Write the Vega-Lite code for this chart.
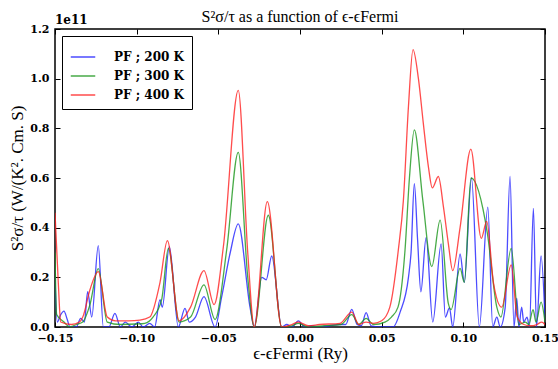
{
  "$schema": "https://vega.github.io/schema/vega-lite/v6.json",
  "width": 490,
  "height": 298,
  "autosize": {"type": "none"},
  "padding": {"left": 55, "top": 29, "right": 13, "bottom": 42},
  "background": "white",
  "title": {"text": "S²σ/τ as a function of ϵ-ϵFermi", "font": "Liberation Serif", "fontSize": 16, "fontWeight": "normal", "color": "black", "offset": 8, "dy": 19},
  "config": {
    "view": {"stroke": "black", "strokeWidth": 1.5},
    "axis": {"grid": false, "domain": false, "labelFlush": false, "labelFont": "DejaVu Serif", "labelFontWeight": "bold", "labelFontSize": 11, "labelColor": "black", "tickColor": "black", "tickSize": -5, "titleFont": "Liberation Serif", "titleFontWeight": "normal", "titleFontSize": 17, "titleColor": "black"}
  },
  "datasets": {
    "pf": [
      {"e": -0.15, "series": "PF ; 200 K", "pf": 0.2},
      {"e": -0.1486, "series": "PF ; 200 K", "pf": 0.02},
      {"e": -0.1465, "series": "PF ; 200 K", "pf": 0.05},
      {"e": -0.1445, "series": "PF ; 200 K", "pf": 0.064},
      {"e": -0.1425, "series": "PF ; 200 K", "pf": 0.03},
      {"e": -0.1408, "series": "PF ; 200 K", "pf": 0.0},
      {"e": -0.137, "series": "PF ; 200 K", "pf": 0.0},
      {"e": -0.1343, "series": "PF ; 200 K", "pf": 0.035},
      {"e": -0.132, "series": "PF ; 200 K", "pf": 0.02},
      {"e": -0.13, "series": "PF ; 200 K", "pf": 0.142},
      {"e": -0.1275, "series": "PF ; 200 K", "pf": 0.04},
      {"e": -0.1235, "series": "PF ; 200 K", "pf": 0.328},
      {"e": -0.1204, "series": "PF ; 200 K", "pf": 0.0},
      {"e": -0.117, "series": "PF ; 200 K", "pf": 0.0},
      {"e": -0.1133, "series": "PF ; 200 K", "pf": 0.055},
      {"e": -0.11, "series": "PF ; 200 K", "pf": 0.0},
      {"e": -0.107, "series": "PF ; 200 K", "pf": 0.02},
      {"e": -0.103, "series": "PF ; 200 K", "pf": 0.0},
      {"e": -0.099, "series": "PF ; 200 K", "pf": 0.02},
      {"e": -0.096, "series": "PF ; 200 K", "pf": 0.0},
      {"e": -0.092, "series": "PF ; 200 K", "pf": 0.015},
      {"e": -0.089, "series": "PF ; 200 K", "pf": 0.0},
      {"e": -0.0857, "series": "PF ; 200 K", "pf": 0.11},
      {"e": -0.0843, "series": "PF ; 200 K", "pf": 0.08},
      {"e": -0.08, "series": "PF ; 200 K", "pf": 0.324},
      {"e": -0.0745, "series": "PF ; 200 K", "pf": 0.0},
      {"e": -0.0704, "series": "PF ; 200 K", "pf": 0.075},
      {"e": -0.0678, "series": "PF ; 200 K", "pf": 0.02},
      {"e": -0.064, "series": "PF ; 200 K", "pf": 0.04},
      {"e": -0.0588, "series": "PF ; 200 K", "pf": 0.122},
      {"e": -0.052, "series": "PF ; 200 K", "pf": 0.0},
      {"e": -0.048, "series": "PF ; 200 K", "pf": 0.12},
      {"e": -0.0428, "series": "PF ; 200 K", "pf": 0.297},
      {"e": -0.0378, "series": "PF ; 200 K", "pf": 0.415},
      {"e": -0.0306, "series": "PF ; 200 K", "pf": 0.08},
      {"e": -0.028, "series": "PF ; 200 K", "pf": 0.0},
      {"e": -0.0234, "series": "PF ; 200 K", "pf": 0.2},
      {"e": -0.0207, "series": "PF ; 200 K", "pf": 0.19},
      {"e": -0.0173, "series": "PF ; 200 K", "pf": 0.286},
      {"e": -0.0112, "series": "PF ; 200 K", "pf": 0.0},
      {"e": -0.0081, "series": "PF ; 200 K", "pf": 0.01},
      {"e": -0.005, "series": "PF ; 200 K", "pf": 0.0},
      {"e": -0.001, "series": "PF ; 200 K", "pf": 0.025},
      {"e": 0.003, "series": "PF ; 200 K", "pf": 0.0},
      {"e": 0.007, "series": "PF ; 200 K", "pf": 0.005},
      {"e": 0.012, "series": "PF ; 200 K", "pf": 0.0},
      {"e": 0.018, "series": "PF ; 200 K", "pf": 0.005},
      {"e": 0.024, "series": "PF ; 200 K", "pf": 0.01},
      {"e": 0.028, "series": "PF ; 200 K", "pf": 0.01},
      {"e": 0.0317, "series": "PF ; 200 K", "pf": 0.071},
      {"e": 0.035, "series": "PF ; 200 K", "pf": 0.01},
      {"e": 0.0375, "series": "PF ; 200 K", "pf": 0.005},
      {"e": 0.0405, "series": "PF ; 200 K", "pf": 0.058},
      {"e": 0.0435, "series": "PF ; 200 K", "pf": 0.005},
      {"e": 0.05, "series": "PF ; 200 K", "pf": 0.0},
      {"e": 0.057, "series": "PF ; 200 K", "pf": 0.0},
      {"e": 0.0613, "series": "PF ; 200 K", "pf": 0.06},
      {"e": 0.0664, "series": "PF ; 200 K", "pf": 0.2},
      {"e": 0.068, "series": "PF ; 200 K", "pf": 0.3},
      {"e": 0.07, "series": "PF ; 200 K", "pf": 0.577},
      {"e": 0.072, "series": "PF ; 200 K", "pf": 0.35},
      {"e": 0.074, "series": "PF ; 200 K", "pf": 0.142},
      {"e": 0.0772, "series": "PF ; 200 K", "pf": 0.36},
      {"e": 0.0813, "series": "PF ; 200 K", "pf": 0.02},
      {"e": 0.0864, "series": "PF ; 200 K", "pf": 0.335},
      {"e": 0.089, "series": "PF ; 200 K", "pf": 0.04},
      {"e": 0.0915, "series": "PF ; 200 K", "pf": 0.077},
      {"e": 0.0935, "series": "PF ; 200 K", "pf": 0.0},
      {"e": 0.098, "series": "PF ; 200 K", "pf": 0.294},
      {"e": 0.1006, "series": "PF ; 200 K", "pf": 0.18},
      {"e": 0.105, "series": "PF ; 200 K", "pf": 0.6},
      {"e": 0.1098, "series": "PF ; 200 K", "pf": 0.0},
      {"e": 0.115, "series": "PF ; 200 K", "pf": 0.483},
      {"e": 0.118, "series": "PF ; 200 K", "pf": 0.0},
      {"e": 0.1205, "series": "PF ; 200 K", "pf": 0.04},
      {"e": 0.1226, "series": "PF ; 200 K", "pf": 0.0},
      {"e": 0.1256, "series": "PF ; 200 K", "pf": 0.077},
      {"e": 0.1286, "series": "PF ; 200 K", "pf": 0.606},
      {"e": 0.131, "series": "PF ; 200 K", "pf": 0.0},
      {"e": 0.1327, "series": "PF ; 200 K", "pf": 0.116},
      {"e": 0.134, "series": "PF ; 200 K", "pf": 0.0},
      {"e": 0.1357, "series": "PF ; 200 K", "pf": 0.08},
      {"e": 0.137, "series": "PF ; 200 K", "pf": 0.02},
      {"e": 0.139, "series": "PF ; 200 K", "pf": 0.04},
      {"e": 0.1405, "series": "PF ; 200 K", "pf": 0.0},
      {"e": 0.1429, "series": "PF ; 200 K", "pf": 0.478},
      {"e": 0.1448, "series": "PF ; 200 K", "pf": 0.0},
      {"e": 0.1476, "series": "PF ; 200 K", "pf": 0.286},
      {"e": 0.15, "series": "PF ; 200 K", "pf": 0.03},

      {"e": -0.15, "series": "PF ; 300 K", "pf": 0.3},
      {"e": -0.149, "series": "PF ; 300 K", "pf": 0.05},
      {"e": -0.1445, "series": "PF ; 300 K", "pf": 0.02},
      {"e": -0.141, "series": "PF ; 300 K", "pf": 0.0},
      {"e": -0.137, "series": "PF ; 300 K", "pf": 0.01},
      {"e": -0.133, "series": "PF ; 300 K", "pf": 0.02},
      {"e": -0.1286, "series": "PF ; 300 K", "pf": 0.09},
      {"e": -0.1235, "series": "PF ; 300 K", "pf": 0.235},
      {"e": -0.118, "series": "PF ; 300 K", "pf": 0.02},
      {"e": -0.11, "series": "PF ; 300 K", "pf": 0.01},
      {"e": -0.1, "series": "PF ; 300 K", "pf": 0.012},
      {"e": -0.095, "series": "PF ; 300 K", "pf": 0.015},
      {"e": -0.09, "series": "PF ; 300 K", "pf": 0.04},
      {"e": -0.0847, "series": "PF ; 300 K", "pf": 0.11},
      {"e": -0.0806, "series": "PF ; 300 K", "pf": 0.317},
      {"e": -0.074, "series": "PF ; 300 K", "pf": 0.02},
      {"e": -0.067, "series": "PF ; 300 K", "pf": 0.04},
      {"e": -0.0588, "series": "PF ; 300 K", "pf": 0.17},
      {"e": -0.052, "series": "PF ; 300 K", "pf": 0.03},
      {"e": -0.0449, "series": "PF ; 300 K", "pf": 0.31},
      {"e": -0.0378, "series": "PF ; 300 K", "pf": 0.703},
      {"e": -0.032, "series": "PF ; 300 K", "pf": 0.2},
      {"e": -0.028, "series": "PF ; 300 K", "pf": 0.0},
      {"e": -0.0194, "series": "PF ; 300 K", "pf": 0.45},
      {"e": -0.0112, "series": "PF ; 300 K", "pf": 0.0},
      {"e": -0.005, "series": "PF ; 300 K", "pf": 0.005},
      {"e": -0.001, "series": "PF ; 300 K", "pf": 0.015},
      {"e": 0.005, "series": "PF ; 300 K", "pf": 0.0},
      {"e": 0.015, "series": "PF ; 300 K", "pf": 0.005},
      {"e": 0.025, "series": "PF ; 300 K", "pf": 0.01},
      {"e": 0.0317, "series": "PF ; 300 K", "pf": 0.05},
      {"e": 0.036, "series": "PF ; 300 K", "pf": 0.01},
      {"e": 0.0405, "series": "PF ; 300 K", "pf": 0.035},
      {"e": 0.045, "series": "PF ; 300 K", "pf": 0.01},
      {"e": 0.052, "series": "PF ; 300 K", "pf": 0.02},
      {"e": 0.056, "series": "PF ; 300 K", "pf": 0.04},
      {"e": 0.06, "series": "PF ; 300 K", "pf": 0.08},
      {"e": 0.0643, "series": "PF ; 300 K", "pf": 0.31},
      {"e": 0.067, "series": "PF ; 300 K", "pf": 0.6},
      {"e": 0.07, "series": "PF ; 300 K", "pf": 0.794},
      {"e": 0.0752, "series": "PF ; 300 K", "pf": 0.51},
      {"e": 0.0807, "series": "PF ; 300 K", "pf": 0.243},
      {"e": 0.0858, "series": "PF ; 300 K", "pf": 0.43},
      {"e": 0.0908, "series": "PF ; 300 K", "pf": 0.095},
      {"e": 0.0925, "series": "PF ; 300 K", "pf": 0.07},
      {"e": 0.098, "series": "PF ; 300 K", "pf": 0.236},
      {"e": 0.1006, "series": "PF ; 300 K", "pf": 0.18},
      {"e": 0.1047, "series": "PF ; 300 K", "pf": 0.6},
      {"e": 0.1147, "series": "PF ; 300 K", "pf": 0.378},
      {"e": 0.1205, "series": "PF ; 300 K", "pf": 0.08},
      {"e": 0.123, "series": "PF ; 300 K", "pf": 0.04},
      {"e": 0.1293, "series": "PF ; 300 K", "pf": 0.317},
      {"e": 0.134, "series": "PF ; 300 K", "pf": 0.01},
      {"e": 0.138, "series": "PF ; 300 K", "pf": 0.02},
      {"e": 0.14, "series": "PF ; 300 K", "pf": 0.01},
      {"e": 0.1427, "series": "PF ; 300 K", "pf": 0.07},
      {"e": 0.1445, "series": "PF ; 300 K", "pf": 0.02},
      {"e": 0.1476, "series": "PF ; 300 K", "pf": 0.1},
      {"e": 0.15, "series": "PF ; 300 K", "pf": 0.02},

      {"e": -0.15, "series": "PF ; 400 K", "pf": 0.46},
      {"e": -0.148, "series": "PF ; 400 K", "pf": 0.18},
      {"e": -0.1465, "series": "PF ; 400 K", "pf": 0.02},
      {"e": -0.14, "series": "PF ; 400 K", "pf": 0.01},
      {"e": -0.135, "series": "PF ; 400 K", "pf": 0.02},
      {"e": -0.133, "series": "PF ; 400 K", "pf": 0.04},
      {"e": -0.1286, "series": "PF ; 400 K", "pf": 0.15},
      {"e": -0.1235, "series": "PF ; 400 K", "pf": 0.223},
      {"e": -0.118, "series": "PF ; 400 K", "pf": 0.04},
      {"e": -0.113, "series": "PF ; 400 K", "pf": 0.025},
      {"e": -0.105, "series": "PF ; 400 K", "pf": 0.025},
      {"e": -0.098, "series": "PF ; 400 K", "pf": 0.028},
      {"e": -0.092, "series": "PF ; 400 K", "pf": 0.04},
      {"e": -0.0857, "series": "PF ; 400 K", "pf": 0.18},
      {"e": -0.0812, "series": "PF ; 400 K", "pf": 0.348},
      {"e": -0.074, "series": "PF ; 400 K", "pf": 0.025},
      {"e": -0.067, "series": "PF ; 400 K", "pf": 0.08},
      {"e": -0.0588, "series": "PF ; 400 K", "pf": 0.227},
      {"e": -0.0526, "series": "PF ; 400 K", "pf": 0.09},
      {"e": -0.0469, "series": "PF ; 400 K", "pf": 0.324},
      {"e": -0.0378, "series": "PF ; 400 K", "pf": 0.953},
      {"e": -0.032, "series": "PF ; 400 K", "pf": 0.3},
      {"e": -0.028, "series": "PF ; 400 K", "pf": 0.0},
      {"e": -0.02, "series": "PF ; 400 K", "pf": 0.505},
      {"e": -0.0112, "series": "PF ; 400 K", "pf": 0.0},
      {"e": -0.005, "series": "PF ; 400 K", "pf": 0.01},
      {"e": -0.001, "series": "PF ; 400 K", "pf": 0.02},
      {"e": 0.005, "series": "PF ; 400 K", "pf": 0.005},
      {"e": 0.012, "series": "PF ; 400 K", "pf": 0.01},
      {"e": 0.0245, "series": "PF ; 400 K", "pf": 0.015},
      {"e": 0.0317, "series": "PF ; 400 K", "pf": 0.06},
      {"e": 0.036, "series": "PF ; 400 K", "pf": 0.01},
      {"e": 0.0405, "series": "PF ; 400 K", "pf": 0.02},
      {"e": 0.045, "series": "PF ; 400 K", "pf": 0.015},
      {"e": 0.05, "series": "PF ; 400 K", "pf": 0.025},
      {"e": 0.055, "series": "PF ; 400 K", "pf": 0.08},
      {"e": 0.0602, "series": "PF ; 400 K", "pf": 0.31},
      {"e": 0.0633, "series": "PF ; 400 K", "pf": 0.51},
      {"e": 0.0664, "series": "PF ; 400 K", "pf": 0.888},
      {"e": 0.0692, "series": "PF ; 400 K", "pf": 1.117},
      {"e": 0.0725, "series": "PF ; 400 K", "pf": 1.0},
      {"e": 0.0755, "series": "PF ; 400 K", "pf": 0.82},
      {"e": 0.0786, "series": "PF ; 400 K", "pf": 0.646},
      {"e": 0.081, "series": "PF ; 400 K", "pf": 0.56},
      {"e": 0.0847, "series": "PF ; 400 K", "pf": 0.606},
      {"e": 0.0878, "series": "PF ; 400 K", "pf": 0.485},
      {"e": 0.0908, "series": "PF ; 400 K", "pf": 0.337},
      {"e": 0.0935, "series": "PF ; 400 K", "pf": 0.227},
      {"e": 0.098, "series": "PF ; 400 K", "pf": 0.4},
      {"e": 0.1046, "series": "PF ; 400 K", "pf": 0.716},
      {"e": 0.111, "series": "PF ; 400 K", "pf": 0.357},
      {"e": 0.1143, "series": "PF ; 400 K", "pf": 0.425},
      {"e": 0.1185, "series": "PF ; 400 K", "pf": 0.176},
      {"e": 0.1235, "series": "PF ; 400 K", "pf": 0.08},
      {"e": 0.1293, "series": "PF ; 400 K", "pf": 0.25},
      {"e": 0.133, "series": "PF ; 400 K", "pf": 0.04},
      {"e": 0.137, "series": "PF ; 400 K", "pf": 0.01},
      {"e": 0.141, "series": "PF ; 400 K", "pf": 0.005},
      {"e": 0.145, "series": "PF ; 400 K", "pf": 0.01},
      {"e": 0.148, "series": "PF ; 400 K", "pf": 0.02},
      {"e": 0.15, "series": "PF ; 400 K", "pf": 0.01}
    ],
    "note": [{"e": -0.15, "pf": 1.2, "label": "1e11"}]
  },
  "layer": [
    {
      "data": {"name": "pf"},
      "mark": {"type": "line", "interpolate": "monotone", "strokeWidth": 1.3, "opacity": 0.8, "clip": true},
      "encoding": {
        "x": {"field": "e", "type": "quantitative", "scale": {"domain": [-0.15, 0.15], "nice": false, "zero": false},
              "axis": {"orient": "bottom", "values": [-0.15, -0.1, -0.05, 0, 0.05, 0.1, 0.15], "format": ".2f", "title": "ϵ-ϵFermi (Ry)", "titlePadding": 2, "labelPadding": 10}},
        "y": {"field": "pf", "type": "quantitative", "scale": {"domain": [0, 1.2], "nice": false},
              "axis": {"orient": "left", "values": [0, 0.2, 0.4, 0.6, 0.8, 1.0, 1.2], "format": ".1f", "title": "S²σ/τ (W/(K². Cm. S)", "titlePadding": 3, "labelPadding": 11}},
        "color": {"field": "series", "type": "nominal",
                  "scale": {"domain": ["PF ; 200 K", "PF ; 300 K", "PF ; 400 K"], "range": ["#1f1fff", "#1a961a", "#ff1f1f"]},
                  "legend": {"title": null, "orient": "top-left", "offset": 7, "strokeColor": "black", "fillColor": "white", "padding": 8, "symbolType": "stroke", "symbolSize": 600, "symbolStrokeWidth": 1.5, "labelFont": "DejaVu Serif", "labelFontWeight": "bold", "labelFontSize": 12, "labelColor": "black", "rowPadding": -3, "labelOffset": 18}}
      }
    },
    {
      "data": {"name": "note"},
      "mark": {"type": "text", "align": "left", "baseline": "bottom", "dy": -2, "font": "DejaVu Serif", "fontWeight": "bold", "fontSize": 12, "color": "black"},
      "encoding": {
        "text": {"field": "label"},
        "x": {"field": "e", "type": "quantitative", "axis": {"orient": "top", "values": [-0.15, -0.1, -0.05, 0, 0.05, 0.1, 0.15], "labels": false, "title": null}},
        "y": {"field": "pf", "type": "quantitative", "axis": {"orient": "right", "values": [0, 0.2, 0.4, 0.6, 0.8, 1.0, 1.2], "labels": false, "title": null}}
      }
    }
  ],
  "resolve": {"axis": {"x": "independent", "y": "independent"}}
}
